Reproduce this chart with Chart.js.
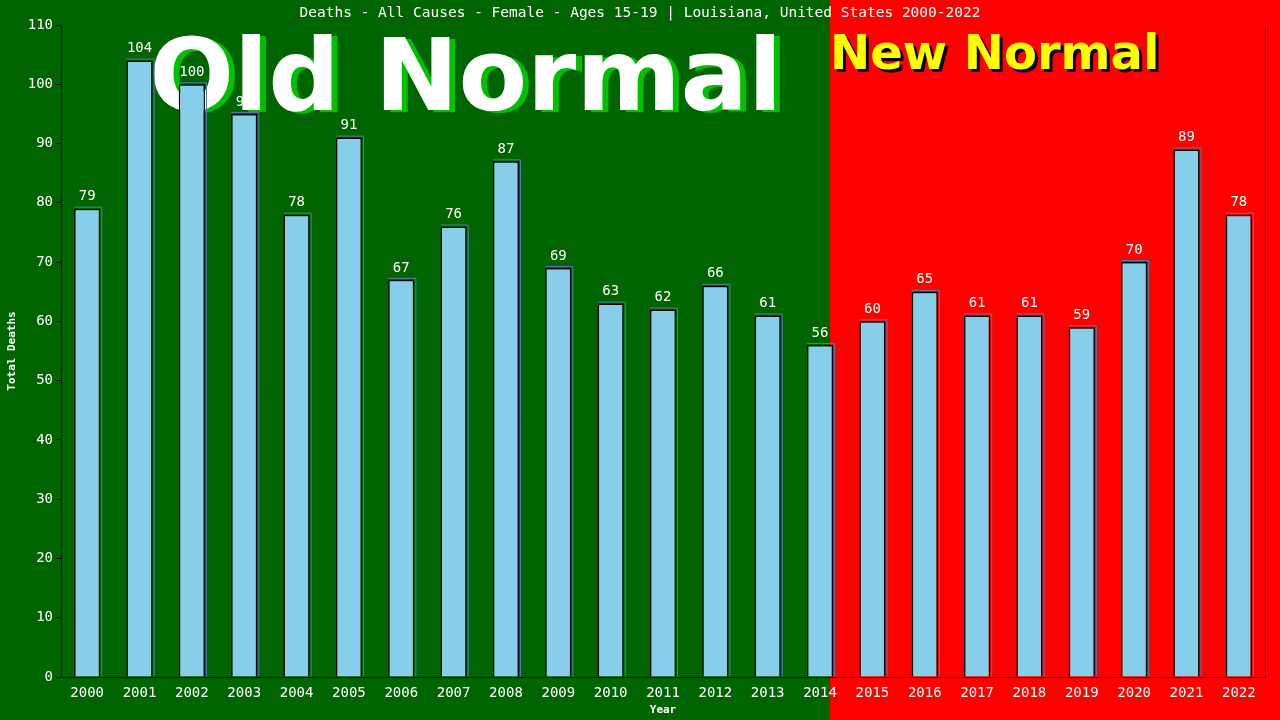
<!DOCTYPE html>
<html>
<head>
<meta charset="utf-8">
<script src="https://cdn.jsdelivr.net/npm/chart.js@4/dist/chart.umd.min.js"></script>
<style>
  html, body { margin: 0; padding: 0; background: #006400; }
  #wrap { width: 1280px; height: 720px; }
</style>
</head>
<body>
<div id="wrap"><canvas id="chart" width="1280" height="720"></canvas></div>
<script>
const years = ["2000", "2001", "2002", "2003", "2004", "2005", "2006", "2007", "2008", "2009", "2010", "2011",
  "2012", "2013", "2014", "2015", "2016", "2017", "2018", "2019", "2020", "2021", "2022"];
const deaths = [79, 104, 100, 95, 78, 91, 67, 76, 87, 69, 63, 62, 66, 61, 56, 60, 65, 61, 61, 59, 70, 89, 78];
const yTicks = [0, 10, 20, 30, 40, 50, 60, 70, 80, 90, 100, 110];
const splitIndex = 14; // last "old normal" year

const mono = "'DejaVu Sans Mono', 'Liberation Mono', monospace";

// background halves, bar labels and the big captions, all before the bars
const backdrop = {
  id: "backdrop",
  beforeDraw(chart) {
    const ctx = chart.ctx;
    const x = chart.scales.x;
    const split = x.getPixelForValue(splitIndex) + 10;
    ctx.save();
    ctx.fillStyle = "#006400";
    ctx.fillRect(0, 0, split, chart.height);
    ctx.fillStyle = "#ff0000";
    ctx.fillRect(split, 0, chart.width - split, chart.height);

    ctx.fillStyle = "#ffffff";
    ctx.font = "14.5px " + mono;
    ctx.textAlign = "center";
    ctx.textBaseline = "middle";
    ctx.fillText("Deaths - All Causes - Female - Ages 15-19 | Louisiana, United States 2000-2022", 640, 13);
    ctx.restore();
  },
  beforeDatasetsDraw(chart) {
    const ctx = chart.ctx;
    const meta = chart.getDatasetMeta(0);
    ctx.save();
    ctx.fillStyle = "#ffffff";
    ctx.font = "14px " + mono;
    ctx.textAlign = "center";
    ctx.textBaseline = "bottom";
    meta.data.forEach((bar, i) => {
      ctx.fillText(String(deaths[i]), bar.x, bar.y - 5);
    });

    ctx.textAlign = "left";
    ctx.textBaseline = "alphabetic";
    ctx.font = "bold 100px 'DejaVu Sans', sans-serif";
    ctx.fillStyle = "#00c000";
    ctx.fillText("Old Normal", 155, 112);
    ctx.fillStyle = "#ffffff";
    ctx.fillText("Old Normal", 149, 110);

    ctx.font = "bold 48px 'DejaVu Sans', sans-serif";
    ctx.fillStyle = "#000000";
    ctx.fillText("New Normal", 833, 72);
    ctx.fillStyle = "#ffff00";
    ctx.fillText("New Normal", 830, 69);

    // right frame line
    const area = chart.chartArea;
    ctx.strokeStyle = "#000000";
    ctx.lineWidth = 1;
    ctx.beginPath();
    ctx.moveTo(Math.round(area.right) + 0.5, area.top);
    ctx.lineTo(Math.round(area.right) + 0.5, area.bottom);
    ctx.stroke();
    ctx.restore();
  },
  afterDatasetsDraw(chart) {
    // thin steel-blue edge to the right of each bar
    const ctx = chart.ctx;
    const meta = chart.getDatasetMeta(0);
    ctx.save();
    ctx.strokeStyle = "#4682b4";
    ctx.lineWidth = 1;
    meta.data.forEach((bar) => {
      const r = bar.x + bar.width / 2 + 1.5;
      ctx.beginPath();
      ctx.moveTo(bar.x - bar.width / 2, bar.y - 1.5);
      ctx.lineTo(r, bar.y - 1.5);
      ctx.lineTo(r, bar.base);
      ctx.stroke();
    });
    ctx.restore();
  }
};

new Chart(document.getElementById("chart"), {
  type: "bar",
  data: {
    labels: years,
    datasets: [{
      data: deaths,
      backgroundColor: "#87ceeb",
      borderColor: "#000000",
      borderWidth: { top: 1.5, left: 1.5, right: 1.5, bottom: 0 },
      barPercentage: 0.5,
      categoryPercentage: 1
    }]
  },
  options: {
    responsive: false,
    animation: false,
    layout: { padding: { top: 25, right: 15, left: 0, bottom: 0 } },
    plugins: {
      legend: { display: false },
      tooltip: { enabled: false },
      title: { display: false }
    },
    scales: {
      x: {
        grid: { display: false },
        border: { display: true, color: "#000000", width: 1 },
        ticks: { color: "#ffffff", font: { family: mono, size: 14 }, padding: 0, maxRotation: 0 },
        title: { display: true, text: "Year", color: "#ffffff", font: { family: mono, size: 11, weight: "bold" }, padding: { top: 0, bottom: 3 } },
        afterFit(scale) { scale.height = 43; }
      },
      y: {
        min: 0,
        max: 110,
        afterBuildTicks(scale) { scale.ticks = yTicks.map(v => ({ value: v })); },
        grid: { drawOnChartArea: false, color: "#000000", tickLength: 5 },
        border: { display: true, color: "#000000", width: 1 },
        ticks: { color: "#ffffff", font: { family: mono, size: 14 }, padding: 3 },
        title: { display: true, text: "Total Deaths", color: "#ffffff", font: { family: mono, size: 11, weight: "bold" }, padding: { top: 6, bottom: 4 } },
        afterFit(scale) { scale.width = 61; }
      }
    }
  },
  plugins: [backdrop]
});
</script>
</body>
</html>
